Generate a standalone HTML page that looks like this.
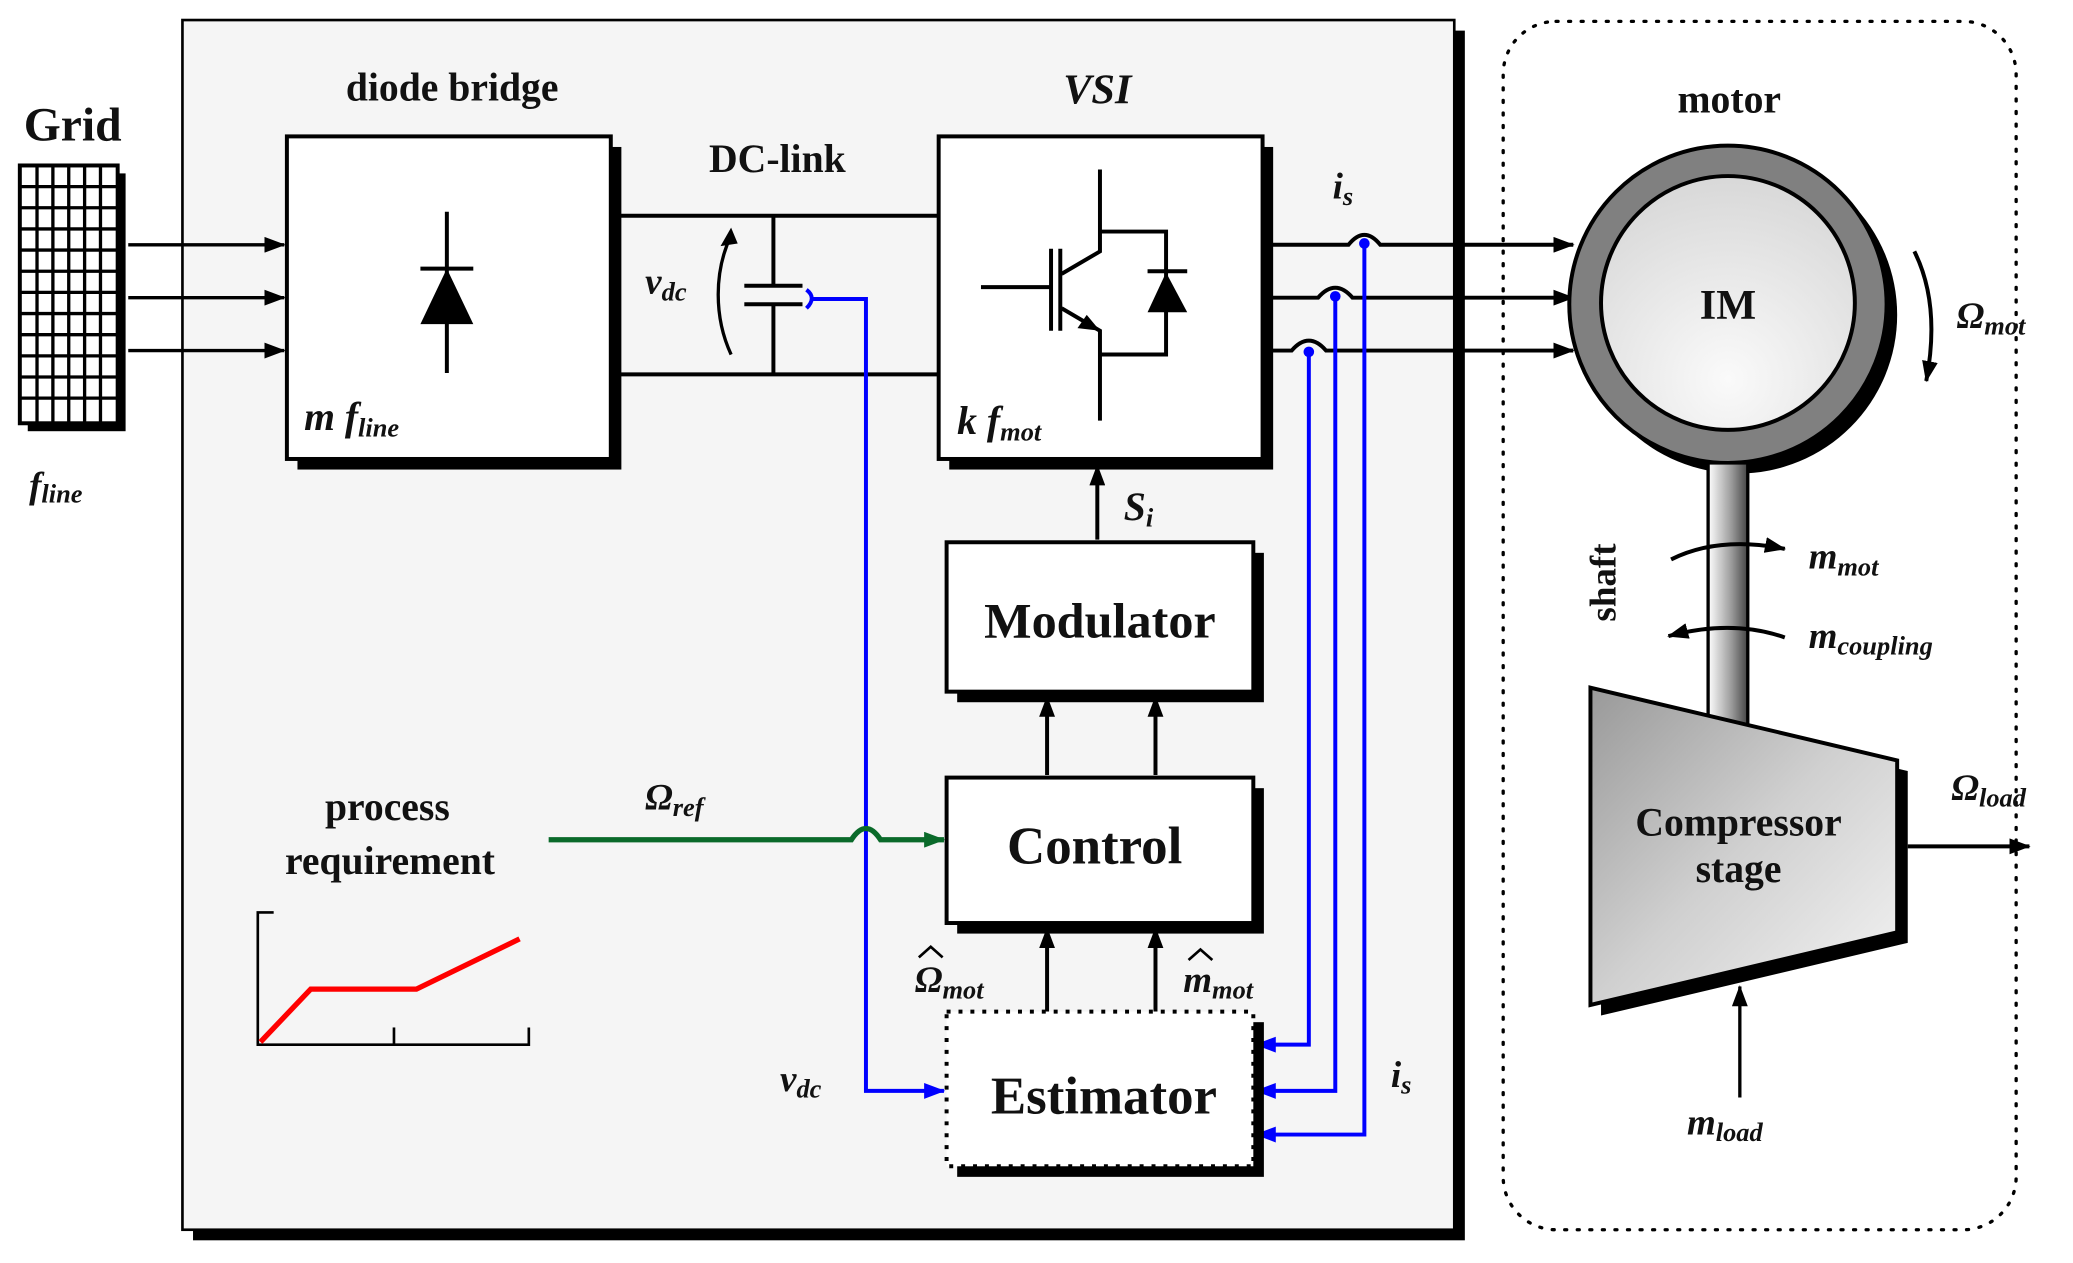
<!DOCTYPE html>
<html><head><meta charset="utf-8"><style>
html,body{margin:0;padding:0;background:#fff;}
svg{display:block;}
text{font-family:"Liberation Serif",serif;font-weight:bold;fill:#111;}
.it{font-style:italic;}
</style></head><body>
<svg width="2073" height="1263" viewBox="0 0 1568 955" xmlns="http://www.w3.org/2000/svg">
<defs>
<marker id="abig" markerWidth="16" markerHeight="12" refX="15" refY="6" orient="auto" markerUnits="userSpaceOnUse"><path d="M0,0 L16,6 L0,12 z" fill="#000"/></marker>
<marker id="bl" markerWidth="16" markerHeight="12" refX="15" refY="6" orient="auto" markerUnits="userSpaceOnUse"><path d="M0,0 L16,6 L0,12 z" fill="#0000ff"/></marker>
<marker id="gr" markerWidth="16" markerHeight="12" refX="15" refY="6" orient="auto" markerUnits="userSpaceOnUse"><path d="M0,0 L16,6 L0,12 z" fill="#0a6a2a"/></marker>
<radialGradient id="img" cx="0.5" cy="0.8" r="0.8"><stop offset="0" stop-color="#fafafa"/><stop offset="1" stop-color="#d8d8d8"/></radialGradient>
<linearGradient id="cmp" x1="0" y1="0" x2="1" y2="1"><stop offset="0" stop-color="#999"/><stop offset="0.5" stop-color="#d0d0d0"/><stop offset="1" stop-color="#f4f4f4"/></linearGradient>
<linearGradient id="sh" x1="0" x2="1"><stop offset="0" stop-color="#fff"/><stop offset="0.6" stop-color="#999"/><stop offset="1" stop-color="#444"/></linearGradient>
</defs>
<rect width="1568" height="955" fill="#fff"/>
<rect x="146" y="23" width="962" height="915" fill="#000"/>
<rect x="138" y="15" width="962" height="915" fill="#f5f5f5" stroke="#000" stroke-width="2"/>
<rect x="1137" y="16" width="388" height="914" rx="40" fill="none" stroke="#000" stroke-width="2.5" stroke-dasharray="1.5 8" stroke-linecap="round"/>

<text x="18" y="106" font-size="36" fill="#2a1a1a">Grid</text>
<rect x="21" y="131" width="74" height="195" fill="#000"/>
<rect x="15" y="125" width="74" height="195" fill="#fff" stroke="#000" stroke-width="3"/>
<g stroke="#000" stroke-width="2.5">
<line x1="28" y1="125" x2="28" y2="320"/><line x1="40" y1="125" x2="40" y2="320"/><line x1="52" y1="125" x2="52" y2="320"/><line x1="64" y1="125" x2="64" y2="320"/><line x1="76" y1="125" x2="76" y2="320"/>
<line x1="15" y1="141" x2="89" y2="141"/><line x1="15" y1="157" x2="89" y2="157"/><line x1="15" y1="173" x2="89" y2="173"/><line x1="15" y1="189" x2="89" y2="189"/><line x1="15" y1="205" x2="89" y2="205"/><line x1="15" y1="221" x2="89" y2="221"/><line x1="15" y1="237" x2="89" y2="237"/><line x1="15" y1="253" x2="89" y2="253"/><line x1="15" y1="269" x2="89" y2="269"/><line x1="15" y1="285" x2="89" y2="285"/><line x1="15" y1="301" x2="89" y2="301"/>
</g>
<text x="22" y="376" font-size="28" class="it">f<tspan font-size="20" dy="4">line</tspan></text>
<g stroke="#000" stroke-width="2.5">
<line x1="97" y1="185" x2="215" y2="185" marker-end="url(#abig)"/>
<line x1="97" y1="225" x2="215" y2="225" marker-end="url(#abig)"/>
<line x1="97" y1="265" x2="215" y2="265" marker-end="url(#abig)"/>
</g>

<text x="342" y="76" font-size="30" text-anchor="middle">diode bridge</text>
<rect x="225" y="111" width="245" height="244" fill="#000"/>
<rect x="217" y="103" width="245" height="244" fill="#fff" stroke="#000" stroke-width="3"/>
<line x1="338" y1="160" x2="338" y2="282" stroke="#000" stroke-width="3"/>
<line x1="318" y1="203" x2="358" y2="203" stroke="#000" stroke-width="3"/>
<path d="M338,203 L318,245 L358,245 z" fill="#000"/>
<text x="230" y="325" font-size="30" class="it">m f<tspan font-size="20" dy="5">line</tspan></text>

<text x="588" y="130" font-size="30" text-anchor="middle">DC-link</text>
<g stroke="#000" stroke-width="3" fill="none">
<line x1="462" y1="163" x2="710" y2="163"/>
<line x1="462" y1="283" x2="710" y2="283"/>
<line x1="585" y1="163" x2="585" y2="216"/>
<line x1="585" y1="230" x2="585" y2="283"/>
<line x1="563" y1="216" x2="607" y2="216"/>
<line x1="563" y1="230" x2="607" y2="230"/>
<path d="M553,268 C540,240 540,205 553,178" stroke-width="2.5"/>
</g>
<path d="M553,172 L545,186 L558,184 z" fill="#000"/>
<text x="488" y="222" font-size="28" class="it">v<tspan font-size="20" dy="5">dc</tspan></text>

<g stroke="#0000ff" stroke-width="3" fill="none">
<path d="M610,219 Q618,225 610,233"/>
<polyline points="615,226 655,226 655,825 714,825" marker-end="url(#bl)"/>
</g>

<text x="830" y="78" font-size="32" class="it" text-anchor="middle">VSI</text>
<rect x="718" y="111" width="245" height="244" fill="#000"/>
<rect x="710" y="103" width="245" height="244" fill="#fff" stroke="#000" stroke-width="3"/>
<g stroke="#000" stroke-width="3" fill="none">
<line x1="742" y1="217" x2="795" y2="217"/>
<line x1="795" y1="188" x2="795" y2="250"/>
<line x1="802" y1="188" x2="802" y2="250"/>
<polyline points="832,128 832,175 832,190 803,207"/>
<polyline points="803,233 832,250 832,318"/>
<polyline points="832,175 882,175 882,268 832,268"/>
<line x1="868" y1="205" x2="898" y2="205"/>
</g>
<path d="M882,206 L868,236 L898,236 z" fill="#000"/>
<path d="M832,250 L815,248 L822,238 z" fill="#000"/>
<text x="724" y="328" font-size="30" class="it">k f<tspan font-size="20" dy="5">mot</tspan></text>

<text x="1008" y="150" font-size="28" class="it">i<tspan font-size="20" dy="5">s</tspan></text>
<g stroke="#000" stroke-width="3" fill="none">
<path d="M957,185 L1020,185 Q1032,170 1044,185 L1190,185" marker-end="url(#abig)"/>
<path d="M957,225 L997,225 Q1010,210 1023,225 L1190,225" marker-end="url(#abig)"/>
<path d="M957,265 L977,265 Q990,250 1003,265 L1190,265" marker-end="url(#abig)"/>
</g>
<g stroke="#0000ff" stroke-width="3" fill="none">
<polyline points="1032,184 1032,858 950,858" marker-end="url(#bl)"/>
<polyline points="1010,224 1010,825 950,825" marker-end="url(#bl)"/>
<polyline points="990,266 990,790 950,790" marker-end="url(#bl)"/>
</g>
<g fill="#0000ff"><circle cx="1032" cy="184" r="4"/><circle cx="1010" cy="224" r="4"/><circle cx="990" cy="266" r="4"/></g>

<line x1="830" y1="408" x2="830" y2="352" stroke="#000" stroke-width="3" marker-end="url(#abig)"/>
<text x="850" y="393" font-size="30" class="it">S<tspan font-size="20" dy="5">i</tspan></text>
<rect x="724" y="418" width="232" height="113" fill="#000"/>
<rect x="716" y="410" width="232" height="113" fill="#fff" stroke="#000" stroke-width="3"/>
<text x="832" y="482" font-size="38" text-anchor="middle">Modulator</text>

<line x1="792" y1="586" x2="792" y2="527" stroke="#000" stroke-width="3" marker-end="url(#abig)"/>
<line x1="874" y1="586" x2="874" y2="527" stroke="#000" stroke-width="3" marker-end="url(#abig)"/>
<rect x="724" y="596" width="232" height="110" fill="#000"/>
<rect x="716" y="588" width="232" height="110" fill="#fff" stroke="#000" stroke-width="3"/>
<text x="828" y="653" font-size="40" text-anchor="middle">Control</text>

<line x1="792" y1="765" x2="792" y2="702" stroke="#000" stroke-width="3" marker-end="url(#abig)"/>
<line x1="874" y1="765" x2="874" y2="702" stroke="#000" stroke-width="3" marker-end="url(#abig)"/>
<rect x="724" y="773" width="232" height="117" fill="#000"/>
<rect x="716" y="765" width="232" height="117" fill="#fff" stroke="#000" stroke-width="3" stroke-dasharray="3 6"/>
<text x="835" y="842" font-size="40" text-anchor="middle">Estimator</text>
<text x="692" y="750" font-size="28" class="it">Ω<tspan font-size="20" dy="5">mot</tspan></text>
<path d="M695,724 L704,716 L713,724" stroke="#000" stroke-width="2" fill="none"/>
<text x="895" y="750" font-size="28" class="it">m<tspan font-size="20" dy="5">mot</tspan></text>
<path d="M899,726 L908,718 L917,726" stroke="#000" stroke-width="2" fill="none"/>
<text x="590" y="825" font-size="28" class="it">v<tspan font-size="20" dy="5">dc</tspan></text>
<text x="1052" y="822" font-size="28" class="it">i<tspan font-size="20" dy="5">s</tspan></text>

<text x="293" y="620" font-size="30" text-anchor="middle">process</text>
<text x="295" y="661" font-size="30" text-anchor="middle">requirement</text>
<text x="488" y="612" font-size="28" class="it">Ω<tspan font-size="20" dy="5">ref</tspan></text>
<path d="M415,635 L644,635 Q655,618 666,635 L714,635" stroke="#0a6a2a" stroke-width="4" fill="none" marker-end="url(#gr)"/>
<g stroke="#000" stroke-width="2" fill="none">
<polyline points="207,690 195,690 195,790 400,790 400,777"/>
<line x1="298" y1="790" x2="298" y2="777"/>
</g>
<polyline points="197,788 235,748 315,748 393,710" stroke="#f00" stroke-width="4" fill="none"/>

<text x="1308" y="85" font-size="30" text-anchor="middle">motor</text>
<circle cx="1315" cy="238" r="120" fill="#000"/>
<circle cx="1307" cy="230" r="120" fill="#808080" stroke="#000" stroke-width="3"/>
<circle cx="1307" cy="229" r="96" fill="url(#img)" stroke="#000" stroke-width="3"/>
<text x="1307" y="241" font-size="32" text-anchor="middle">IM</text>
<path d="M1448,190 Q1468,230 1457,288" stroke="#000" stroke-width="3" fill="none" marker-end="url(#abig)"/>
<text x="1480" y="248" font-size="28" class="it">Ω<tspan font-size="20" dy="5">mot</tspan></text>

<rect x="1292" y="350" width="30" height="200" fill="url(#sh)" stroke="#000" stroke-width="2.5"/>
<text transform="translate(1222,470) rotate(-90)" font-size="28">shaft</text>
<path d="M1264,423 Q1300,405 1350,415" stroke="#000" stroke-width="3" fill="none" marker-end="url(#abig)"/>
<path d="M1350,482 Q1310,468 1262,481" stroke="#000" stroke-width="3" fill="none" marker-end="url(#abig)"/>
<text x="1368" y="430" font-size="28" class="it">m<tspan font-size="20" dy="5">mot</tspan></text>
<text x="1368" y="490" font-size="28" class="it">m<tspan font-size="20" dy="5">coupling</tspan></text>

<path d="M1211,528 L1443,583 L1443,713 L1211,768 z" fill="#000"/>
<path d="M1203,520 L1435,575 L1435,705 L1203,760 z" fill="url(#cmp)" stroke="#000" stroke-width="3"/>
<text x="1315" y="632" font-size="30" text-anchor="middle">Compressor</text>
<text x="1315" y="667" font-size="30" text-anchor="middle">stage</text>
<line x1="1443" y1="640" x2="1535" y2="640" stroke="#000" stroke-width="3" marker-end="url(#abig)"/>
<text x="1476" y="605" font-size="28" class="it">Ω<tspan font-size="20" dy="5">load</tspan></text>
<line x1="1316" y1="830" x2="1316" y2="746" stroke="#000" stroke-width="2.5" marker-end="url(#abig)"/>
<text x="1276" y="858" font-size="28" class="it">m<tspan font-size="20" dy="5">load</tspan></text>
</svg>
</body></html>
